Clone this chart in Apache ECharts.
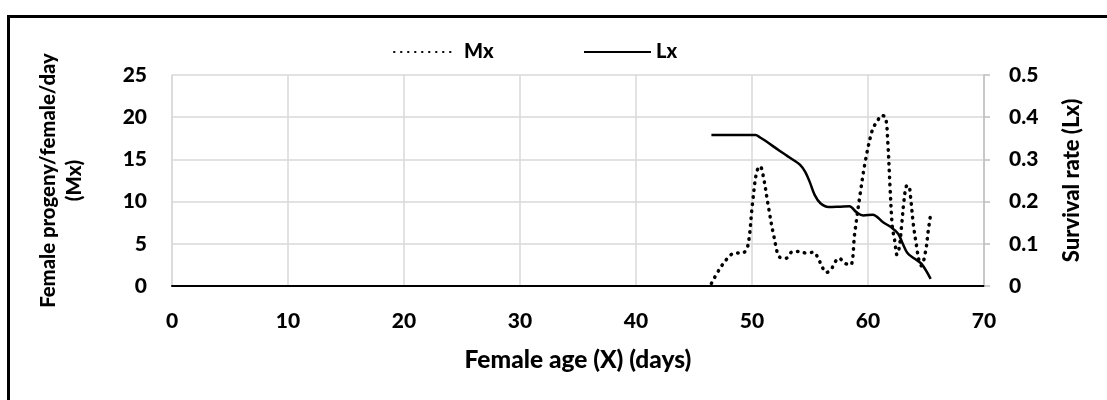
<!DOCTYPE html>
<html>
<head>
<meta charset="utf-8">
<script src="https://cdn.jsdelivr.net/npm/echarts@6/dist/echarts.min.js"></script>
<style>
html,body{margin:0;padding:0;background:#fff;}
#c{width:1107px;height:400px;}
</style>
</head>
<body>
<div id="c"></div>
<script>
// Female age (days) and fecundity Mx
const mxDays = [46.5,47.2,47.9,48.5,49.1,49.6,50.05,50.4,50.7,51.0,51.4,51.9,52.4,52.95,53.4,54.0,54.7,55.3,55.7,56.0,56.4,56.8,57.1,57.5,58.0,58.5,58.85,59.3,59.8,60.4,60.8,61.15,61.5,61.7,61.9,62.1,62.3,62.5,62.7,62.9,63.1,63.3,63.5,63.7,63.9,64.2,64.4,64.6,64.95,65.2,65.4];
const mxValues = [0.3,2.0,3.3,3.9,3.9,4.5,9.9,13.5,14.2,12.8,9.5,5.8,3.4,3.3,4.0,4.1,3.9,4.0,3.3,2.4,1.6,1.9,2.7,3.3,2.7,2.5,6.2,10.7,15.0,18.6,19.5,20.2,20.0,17.2,11.7,7.0,5.4,3.7,4.6,7.2,10.1,11.8,11.9,10.1,7.4,4.6,3.0,2.4,4.0,6.6,8.5];
// Survival rate Lx
const lxDays = [46.5,50.3,50.7,51.15,52.4,53.0,53.6,54.15,54.6,55.0,55.4,55.9,56.6,57.6,58.4,59.0,59.6,60.4,61.3,62.0,62.6,63.0,63.4,64.0,64.6,65.4];
const lxValues = [0.358,0.358,0.352,0.344,0.320,0.309,0.298,0.287,0.270,0.245,0.216,0.196,0.187,0.188,0.189,0.175,0.167,0.169,0.151,0.139,0.124,0.100,0.078,0.065,0.053,0.017];
const xTicks = [0,10,20,30,40,50,60,70];

const FONT = 'Lato, "Open Sans", sans-serif';
const chart = echarts.init(document.getElementById('c'), null, {renderer:'canvas'});
const mxData = mxDays.map((d,i)=>[d, mxValues[i]]);
const lxData = lxDays.map((d,i)=>[d, lxValues[i]]);
const lblStyle = {fontFamily: FONT, fontWeight: 900, fontSize: 21, color: '#000'};

chart.setOption({
  animation: false,
  backgroundColor: '#fff',
  graphic: [{
    type: 'rect', left: 6, top: 14,
    shape: {x: 0, y: 0, width: 1110, height: 400},
    style: {fill: 'none', stroke: '#000', lineWidth: 3}
  }],
  legend: [{
    data: ['Mx'], left: 388, top: 37, itemWidth: 60, itemHeight: 18,
    itemStyle: {opacity: 0},
    textStyle: Object.assign({}, lblStyle, {fontSize: 20, padding: [0,0,0,5]})
  },{
    data: ['Lx'], left: 578, top: 37, itemWidth: 67, itemHeight: 18,
    itemStyle: {opacity: 0},
    textStyle: Object.assign({}, lblStyle, {fontSize: 20, padding: [0,0,0,0]})
  }],
  grid: {left: 172, right: 123, top: 75, bottom: 114, containLabel: false},
  xAxis: {
    type: 'value', min: xTicks[0], max: xTicks[xTicks.length-1], interval: 10,
    axisLine: {show: true, onZero: false, lineStyle: {color: '#000', width: 2}},
    axisTick: {show: false},
    splitLine: {show: true, lineStyle: {color: '#d9d9d9', width: 1.5}},
    axisLabel: Object.assign({}, lblStyle, {margin: 25}),
    name: 'Female age (X) (days)', nameLocation: 'middle', nameGap: 62,
    nameTextStyle: Object.assign({}, lblStyle, {fontSize: 24.5})
  },
  yAxis: [{
    type: 'value', min: 0, max: 25, interval: 5, position: 'left',
    axisLine: {show: true, lineStyle: {color: '#d9d9d9', width: 1.5}},
    axisTick: {show: false},
    splitLine: {show: true, lineStyle: {color: '#d9d9d9', width: 1.5}},
    axisLabel: Object.assign({}, lblStyle, {margin: 25}),
    name: 'Female progeny/female/day\n(Mx)', nameLocation: 'middle', nameRotate: 90, nameGap: 85,
    nameTextStyle: Object.assign({}, lblStyle, {fontSize: 20.3, lineHeight: 26})
  },{
    type: 'value', min: 0, max: 0.5, interval: 0.1, position: 'right',
    axisLine: {show: true, lineStyle: {color: '#bfbfbf', width: 1.5}},
    axisTick: {show: true, length: 6, lineStyle: {color: '#bfbfbf', width: 1.5}},
    splitLine: {show: false},
    axisLabel: Object.assign({}, lblStyle, {margin: 25}),
    name: 'Survival rate (Lx)', nameLocation: 'middle', nameRotate: 90, nameGap: 77,
    nameTextStyle: Object.assign({}, lblStyle, {fontSize: 22})
  }],
  series: [{
    name: 'Mx', type: 'line', yAxisIndex: 0, data: mxData, smooth: 0.35,
    symbol: 'none', color: '#000',
    lineStyle: {color: '#000', width: 3.5, type: [0.5, 6.5], cap: 'round'}
  },{
    name: 'Lx', type: 'line', yAxisIndex: 1, data: lxData, smooth: 0.35,
    symbol: 'none', color: '#000',
    lineStyle: {color: '#000', width: 2.5, type: 'solid'}
  }]
});
</script>
</body>
</html>
